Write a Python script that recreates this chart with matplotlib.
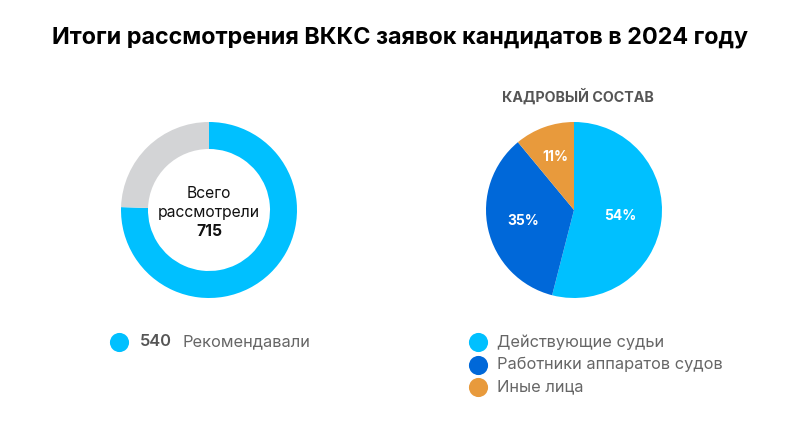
import matplotlib.pyplot as plt
import numpy as np

plt.rcParams['font.family'] = ['Inter', 'DejaVu Sans']

# left donut
total_lines = ["Всего", "рассмотрели"]
total = 715
recommended = 540
donut_values = [recommended, total - recommended]
donut_colors = ['#00C0FF', '#D3D4D6']
left_legend = "Рекомендавали"

# right pie
pie_labels = ["Действующие судьи", "Работники аппаратов судов", "Иные лица"]
pie_values = [54, 35, 11]
pie_colors = ['#00C0FF', '#0068D9', '#E89A3C']

W, H = 800, 429
fig = plt.figure(figsize=(W / 100, H / 100), dpi=100)
ax = fig.add_axes([0, 0, 1, 1])


def Y(py):
    return H - py


# donut
ax.pie(donut_values, colors=donut_colors, startangle=90, counterclock=False,
       center=(209, Y(210)), radius=88,
       wedgeprops=dict(width=27, linewidth=0))
ax.text(209, Y(194), total_lines[0], ha='center', va='center', fontsize=11.3,
        color='#111111')
ax.text(209, Y(213), total_lines[1], ha='center', va='center', fontsize=11.3,
        color='#111111')
ax.text(209, Y(232), str(total), ha='center', va='center', fontsize=11.3,
        fontweight='bold', color='#111111')

# pie
ax.pie(pie_values, colors=pie_colors, startangle=90, counterclock=False,
       center=(574, Y(210)), radius=88, wedgeprops=dict(linewidth=0))
acc = 0
label_r = [0.53, 0.59, 0.64]
for i, v in enumerate(pie_values):
    mid = 90 - (acc + v / 2) / sum(pie_values) * 360
    acc += v
    r = 88 * label_r[i]
    x = 574 + r * np.cos(np.radians(mid))
    y = Y(210) + r * np.sin(np.radians(mid))
    ax.text(x, y, f"{v}%", ha='center', va='center', fontsize=10,
            fontweight='bold', color='white')

# titles
ax.text(400, Y(37), "Итоги рассмотрения ВККС заявок кандидатов в 2024 году",
        ha='center', va='center', fontsize=16.8, fontweight='bold', color='#000000')
ax.text(578, Y(96), "КАДРОВЫЙ СОСТАВ", ha='center', va='center', fontsize=10.3,
        fontweight='bold', color='#555555')

# left legend
ax.scatter([119], [Y(342)], s=190, color=donut_colors[0], linewidths=0)
ax.text(140, Y(342), str(recommended), ha='left', va='center', fontsize=11.8,
        fontweight='semibold', color='#555555')
ax.text(183, Y(342), left_legend, ha='left', va='center', fontsize=11.8,
        color='#666666')

# right legend
for i, lab in enumerate(pie_labels):
    yy = Y(342 + i * 22.5)
    ax.scatter([478], [yy], s=190, color=pie_colors[i], linewidths=0)
    ax.text(497, yy, lab, ha='left', va='center', fontsize=11.8, color='#666666')

ax.set_xlim(0, W)
ax.set_ylim(0, H)
ax.set_aspect('auto')
ax.axis('off')

fig.savefig('out.png', dpi=100, facecolor='white')
